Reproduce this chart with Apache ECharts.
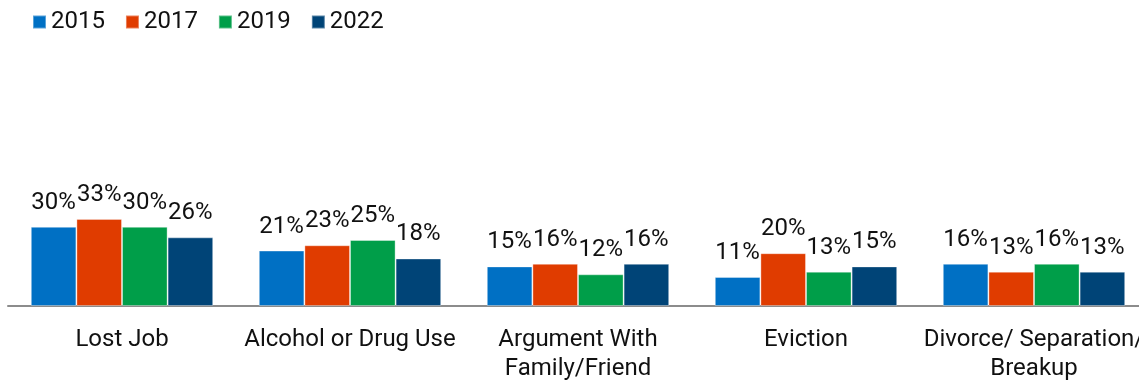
<!DOCTYPE html>
<html>
<head>
<meta charset="utf-8">
<script src="https://cdn.jsdelivr.net/npm/echarts@6/dist/echarts.min.js"></script>
<style>
  html, body { margin: 0; padding: 0; background: #fff; }
  #chart { width: 1139px; height: 382px; }
</style>
</head>
<body>
<div id="chart"></div>
<script>
// Reasons reported, share of respondents by survey year
const categories = [
  'Lost Job',
  'Alcohol or Drug Use',
  'Argument With\nFamily/Friend',
  'Eviction',
  'Divorce/ Separation/\nBreakup'
];
const years = ['2015', '2017', '2019', '2022'];
const values2015 = [30, 21, 15, 11, 16];
const values2017 = [33, 23, 16, 20, 13];
const values2019 = [30, 25, 12, 13, 16];
const values2022 = [26, 18, 16, 15, 13];
const colors = ['#0070C4', '#E03C00', '#009E49', '#004477'];

const seriesValues = [values2015, values2017, values2019, values2022];
const FONT = 'Roboto, "Liberation Sans", sans-serif';
const FS = 24;

const chart = echarts.init(document.getElementById('chart'), null, { renderer: 'canvas' });

chart.setOption({
  animation: false,
  color: colors,
  textStyle: { fontFamily: FONT },
  legend: {
    data: years,
    left: 27,
    top: 5,
    icon: 'rect',
    itemWidth: 13,
    itemHeight: 13,
    itemGap: 20,
    textStyle: { fontSize: FS, color: '#111', fontFamily: FONT }
  },
  // the last category runs slightly past the right edge
  grid: { left: 8, top: 42, width: 1140, bottom: 76, containLabel: false, outerBoundsMode: 'none' },
  xAxis: {
    type: 'category',
    data: categories,
    axisLine: { show: true, lineStyle: { color: '#8c8c8c', width: 2 } },
    axisTick: { show: false },
    axisLabel: {
      interval: 0,
      fontSize: FS,
      lineHeight: 29,
      margin: 19,
      color: '#111',
      fontFamily: FONT
    }
  },
  yAxis: {
    type: 'value',
    min: 0,
    max: 100,
    show: false,
    splitLine: { show: false }
  },
  series: years.map((y, i) => ({
    name: y,
    type: 'bar',
    data: seriesValues[i],
    barGap: '0%',
    barCategoryGap: '20%',
    itemStyle: { color: colors[i], borderColor: 'rgba(255,255,255,0.35)', borderWidth: 1 },
    label: {
      show: true,
      position: 'top',
      distance: 12,
      fontSize: FS,
      color: '#111',
      fontFamily: FONT,
      formatter: p => p.value + '%'
    }
  }))
});
</script>
</body>
</html>
